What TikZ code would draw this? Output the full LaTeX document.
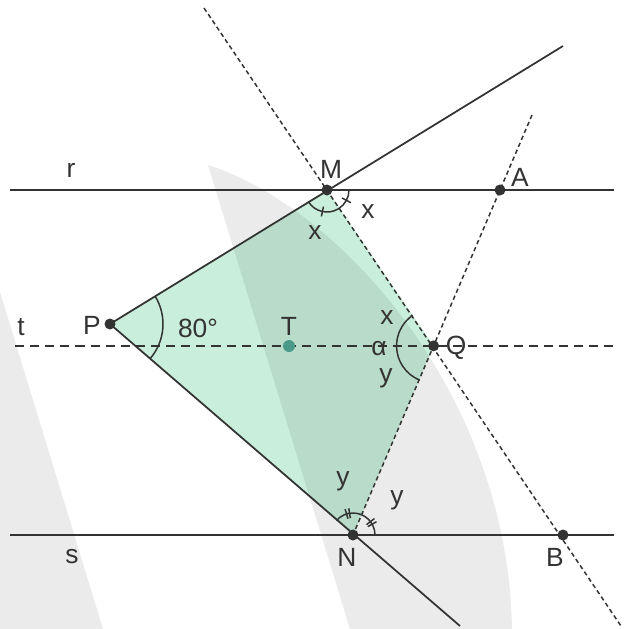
\documentclass[tikz,border=0pt]{standalone}
\usepackage{fontspec}
\setmainfont{Liberation Sans}
\usepackage{tikz}
\usetikzlibrary{calc}
\definecolor{linegray}{HTML}{333333}
\definecolor{kitegreen}{HTML}{C9EEDB}
\definecolor{tealdot}{HTML}{4A9A8A}

\begin{document}
\begin{tikzpicture}[x=0.02cm, y=0.02cm,
  solidline/.style={draw=linegray, line width=1pt},
  longdash/.style={draw=linegray, line width=0.95pt, dash pattern=on 5.2pt off 3.4pt},
  shortdash/.style={draw=linegray, line width=0.85pt, dash pattern=on 2.5pt off 1.8pt},
  anglemark/.style={draw=linegray, line width=0.85pt},
  shade/.style={fill=black, fill opacity=0.08},
  lbl/.style={text=linegray, font=\fontsize{15}{18}\selectfont, inner sep=0pt}]
  \useasboundingbox (0,0) rectangle (630,-629);
  % points
  \coordinate (M) at (327,-190);
  \coordinate (A) at (500,-190);
  \coordinate (P) at (110,-324);
  \coordinate (N) at (353,-535);
  \coordinate (B) at (563,-535);
  \coordinate (Q) at (intersection of M--B and A--N);
  \coordinate (T) at (289,-346);
  % ends of the lines
  \coordinate (r1) at (10,-190);   \coordinate (r2) at (614,-190);
  \coordinate (s1) at (10,-535);   \coordinate (s2) at (614,-535);
  \coordinate (t1) at (15,-346);   \coordinate (t2) at (614,-346);
  \coordinate (PMend) at (563,-46);
  \coordinate (PNend) at (460,-626);
  \coordinate (MBtop) at (204,-8);
  \coordinate (MBend) at (621,-626);
  \coordinate (ANtop) at (532,-115);

  % kite
  \fill[kitegreen] (P) -- (M) -- (Q) -- (N) -- cycle;
  % grey background shapes
  \fill[shade] (0,-292) -- (103,-629) -- (0,-629) -- cycle;
  \fill[shade] (208,-165) .. controls (335,-205) and (508,-390) .. (512,-629)
    -- (350,-629) -- cycle;

  % lines
  \draw[solidline] (r1) -- (r2);
  \draw[solidline] (s1) -- (s2);
  \draw[longdash] (t1) -- (t2);
  \draw[solidline] (P) -- (PMend);
  \draw[solidline] (P) -- (PNend);
  \draw[shortdash] (MBtop) -- (MBend);
  \draw[shortdash] (ANtop) -- (N);

  % angles
  \draw[anglemark] ([shift={(-41:53)}]P) arc[start angle=-41, end angle=31.7, radius=53];
  \draw[anglemark] ([shift={(211.7:22)}]M) arc[start angle=211.7, end angle=360, radius=22];
  \draw[anglemark] ([shift={(258:17)}]M) -- ([shift={(258:27)}]M);
  \draw[anglemark] ([shift={(332:17)}]M) -- ([shift={(332:27)}]M);
  \draw[anglemark] ([shift={(124.4:37)}]Q) arc[start angle=124.4, end angle=246.9, radius=37];
  \draw[anglemark] ([shift={(0:22)}]N) arc[start angle=0, end angle=139, radius=22];
  \foreach \a in {29.5,37.5,99,107}
    \draw[anglemark] ([shift={(\a:17)}]N) -- ([shift={(\a:27)}]N);

  % dots
  \foreach \p in {M,A,P,Q,N,B}
    \fill[linegray] (\p) circle[radius=5.5];
  \fill[tealdot] (T) circle[radius=6];

  % labels
  \node[lbl] (lM) at (331,-169) {M};
  \node[lbl] (lA) at (520,-177) {A};
  \node[lbl] (lP) at (92,-325) {P};
  \node[lbl] (lT) at (289,-326) {T};
  \node[lbl] (lQ) at (456,-348) {Q};
  \node[lbl] (lN) at (347,-557) {N};
  \node[lbl] (lB) at (555,-557) {B};
  \node[lbl] (lr) at (71,-170) {r};
  \node[lbl] (lt) at (21,-327) {t};
  \node[lbl] (ls) at (72,-557) {s};
  \node[lbl] (a80) at (198,-328) {80°};
  \node[lbl] (xM1) at (315,-233) {x};
  \node[lbl] (xM2) at (368,-212) {x};
  \node[lbl] (xQ) at (387,-318) {x};
  \node[lbl] (alpha) at (379,-349) {α};
  \node[lbl] (yQ) at (386,-378) {y};
  \node[lbl] (yN1) at (343,-481) {y};
  \node[lbl] (yN2) at (397,-500) {y};
\end{tikzpicture}
\end{document}
